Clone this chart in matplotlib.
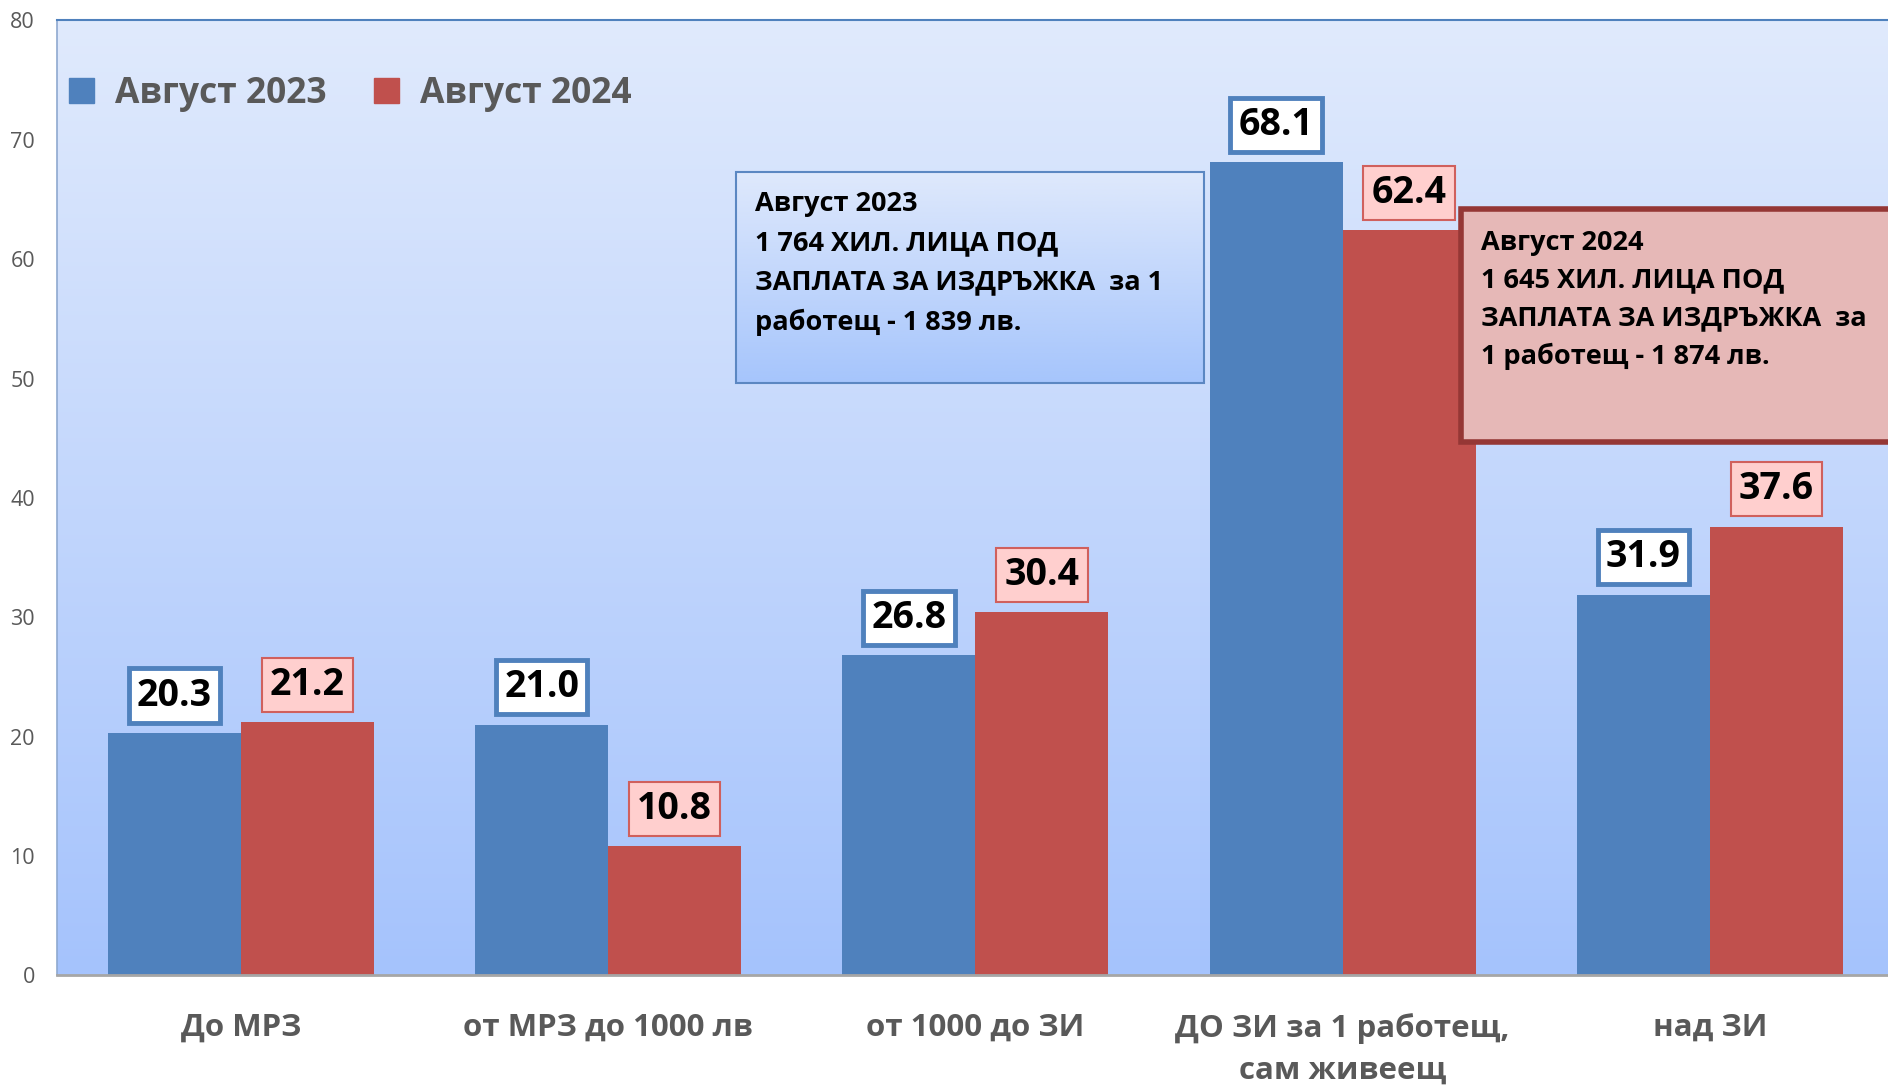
import numpy as np
import matplotlib.pyplot as plt
from matplotlib.patches import Rectangle, Patch

plt.rcParams['font.family'] = ['Open Sans', 'DejaVu Sans']

# data
categories = ['До МРЗ', 'от МРЗ до 1000 лв', 'от 1000 до ЗИ',
              'ДО ЗИ за 1 работещ,\nсам живеещ', 'над ЗИ']
aug_2023 = [20.3, 21.0, 26.8, 68.1, 31.9]
aug_2024 = [21.2, 10.8, 30.4, 62.4, 37.6]
series_names = ['Август 2023', 'Август 2024']
yticks = [0, 10, 20, 30, 40, 50, 60, 70, 80]

note_2023 = 'Август 2023\n1 764 ХИЛ. ЛИЦА ПОД\nЗАПЛАТА ЗА ИЗДРЪЖКА  за 1\nработещ - 1 839 лв.'
note_2024 = 'Август 2024\n1 645 ХИЛ. ЛИЦА ПОД\nЗАПЛАТА ЗА ИЗДРЪЖКА  за\n1 работещ - 1 874 лв.'

blue = '#4f81bd'
red = '#c0504d'
gray = '#595959'

fig = plt.figure(figsize=(18.88, 10.86), dpi=100)
ax = fig.add_axes([0.0303, 0.1019, 0.9726, 0.8793])


def vgrad(top, bottom, n=256):
    top = np.array(top) / 255.0
    bottom = np.array(bottom) / 255.0
    t = np.linspace(0, 1, n)[:, None]
    return (top * (1 - t) + bottom * t)[:, None, :]


# plot area background gradient
ax.imshow(vgrad((224, 234, 252), (165, 195, 253)), extent=[0, 1, 0, 1],
          transform=ax.transAxes, aspect='auto', zorder=0)

x = np.arange(len(categories))
w = 0.362
ax.bar(x - w / 2, aug_2023, w, color=blue, zorder=2)
ax.bar(x + w / 2, aug_2024, w, color=red, zorder=2)

for xi, v in zip(x, aug_2023):
    ax.annotate('{:.1f}'.format(v), (xi - w / 2, v), xytext=(0, 27),
                textcoords='offset points', ha='center', va='center',
                fontsize=27, fontweight='bold', color='black', zorder=6,
                bbox=dict(boxstyle='square,pad=0.22', fc='white', ec=blue, lw=3.5))
for xi, v in zip(x, aug_2024):
    ax.annotate('{:.1f}'.format(v), (xi + w / 2, v), xytext=(0, 27),
                textcoords='offset points', ha='center', va='center',
                fontsize=27, fontweight='bold', color='black', zorder=6,
                bbox=dict(boxstyle='square,pad=0.22', fc='#ffcfce', ec='#d0605d', lw=1.5))

# note boxes
ax.imshow(vgrad((223, 233, 252), (166, 197, 252)), extent=[0.3695, 0.6246, 0.620, 0.841],
          transform=ax.transAxes, aspect='auto', zorder=4)
ax.add_patch(Rectangle((0.3695, 0.620), 0.2551, 0.221, transform=ax.transAxes,
                       fc='none', ec='#5b87c2', lw=1.5, zorder=5))
ax.text(0.380, 0.821, note_2023, transform=ax.transAxes, ha='left', va='top',
        fontsize=19.5, fontweight='bold', color='black', linespacing=1.64, zorder=6)

ax.add_patch(Rectangle((0.7643, 0.559), 0.26, 0.244, transform=ax.transAxes,
                       fc='#e6b8b7', ec='#953735', lw=4, zorder=5, clip_on=False))
ax.text(0.7754, 0.781, note_2024, transform=ax.transAxes, ha='left', va='top',
        fontsize=19.5, fontweight='bold', color='black', linespacing=1.58, zorder=6)

# legend
handles = [Patch(color=blue), Patch(color=red)]
leg = ax.legend(handles, series_names, loc='center left', bbox_to_anchor=(-0.011, 0.923),
                ncol=2, frameon=False, handlelength=0.7, handleheight=0.7,
                handletextpad=0.6, columnspacing=1.35,
                prop={'weight': 'bold', 'size': 25.5})
for t in leg.get_texts():
    t.set_color(gray)

ax.set_xlim(-0.5, 4.5)
ax.set_ylim(0, 80)
ax.set_yticks(yticks)
ax.set_xticks(x)
ax.set_xticklabels(categories, fontsize=22.5, fontweight='bold', color=gray)
for lab in ax.get_xticklabels():
    lab.set_linespacing(1.5)
ax.tick_params(axis='y', length=0, pad=16, labelsize=15.5, labelcolor=gray)
ax.tick_params(axis='x', length=0, pad=27)

ax.spines['top'].set_color(blue)
ax.spines['top'].set_linewidth(1.5)
ax.spines['left'].set_color('#8fa9d0')
ax.spines['left'].set_linewidth(1.2)
ax.spines['bottom'].set_color('#a6a6a6')
ax.spines['bottom'].set_linewidth(2)
ax.spines['right'].set_visible(False)

fig.savefig('out.png', dpi=100)
